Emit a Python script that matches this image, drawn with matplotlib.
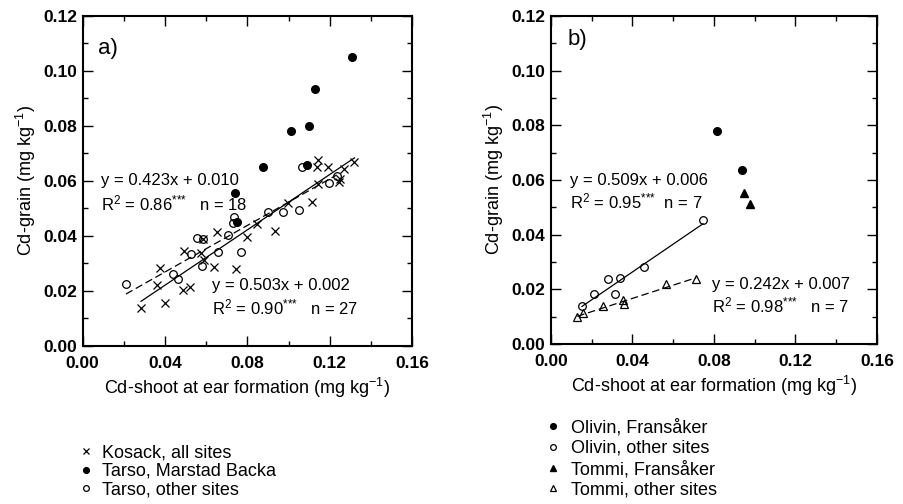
import matplotlib
matplotlib.use('Agg')
import matplotlib.pyplot as plt
from matplotlib.ticker import MultipleLocator
import numpy as np

plt.rcParams['font.family'] = ['Liberation Sans', 'DejaVu Sans']
plt.rcParams['mathtext.fontset'] = 'custom'
plt.rcParams['mathtext.rm'] = 'Liberation Sans'
plt.rcParams['mathtext.it'] = 'Liberation Sans:italic'
plt.rcParams['mathtext.bf'] = 'Liberation Sans:bold'

# ---- panel a) data ----
kosack_x = [0.0283, 0.0401, 0.0361, 0.0374, 0.0488, 0.052, 0.0491, 0.0573, 0.0585, 0.0588,
            0.0637, 0.0654, 0.0743, 0.080, 0.0845, 0.0935, 0.0995, 0.1114, 0.1145, 0.1244,
            0.125, 0.1271, 0.132, 0.1145, 0.1138, 0.1193]
kosack_y = [0.0137, 0.0157, 0.0222, 0.0283, 0.0204, 0.0216, 0.0345, 0.0337, 0.0389, 0.0313,
            0.0288, 0.0416, 0.0279, 0.0396, 0.0444, 0.0418, 0.0521, 0.0523, 0.0589, 0.0597,
            0.0606, 0.0643, 0.0668, 0.0676, 0.0652, 0.0652]
tarso_mb_x = [0.131, 0.113, 0.110, 0.101, 0.0876, 0.1089, 0.074, 0.075]
tarso_mb_y = [0.105, 0.0933, 0.080, 0.078, 0.0652, 0.0659, 0.0557, 0.045]
tarso_ot_x = [0.021, 0.0437, 0.0463, 0.0528, 0.0553, 0.0585, 0.058, 0.0659, 0.0706, 0.0733,
              0.073, 0.0771, 0.0902, 0.0974, 0.1052, 0.1195, 0.1063, 0.1234]
tarso_ot_y = [0.0225, 0.0261, 0.0242, 0.0335, 0.0392, 0.0389, 0.0291, 0.0343, 0.0404, 0.047,
              0.0446, 0.0341, 0.0486, 0.0488, 0.0495, 0.0592, 0.0652, 0.0618]

# ---- panel b) data ----
olivin_fr_x = [0.0815, 0.0939]
olivin_fr_y = [0.078, 0.0636]
olivin_ot_x = [0.0746, 0.0458, 0.034, 0.0282, 0.0213, 0.0314, 0.0152]
olivin_ot_y = [0.0453, 0.0282, 0.0243, 0.0238, 0.0184, 0.0183, 0.0139]
tommi_fr_x = [0.0949, 0.0977]
tommi_fr_y = [0.0553, 0.0513]
tommi_ot_x = [0.0713, 0.0563, 0.0355, 0.036, 0.0255, 0.0159, 0.0129]
tommi_ot_y = [0.0238, 0.0221, 0.0161, 0.0148, 0.0139, 0.0112, 0.0100]

# regressions (slope, intercept) as printed
reg_kosack = (0.503, 0.002)
reg_tarso = (0.423, 0.010)
reg_olivin = (0.509, 0.006)
reg_tommi = (0.242, 0.007)

fig = plt.figure(figsize=(9.04, 5.04), dpi=100)
axa = fig.add_axes([0.0915, 0.3135, 0.3643, 0.6548])
axb = fig.add_axes([0.6095, 0.3175, 0.3606, 0.6508])

def style_axes(ax):
    ax.set_xlim(0, 0.16)
    ax.set_ylim(0, 0.12)
    ax.xaxis.set_major_locator(MultipleLocator(0.04))
    ax.xaxis.set_minor_locator(MultipleLocator(0.02))
    ax.yaxis.set_major_locator(MultipleLocator(0.02))
    ax.yaxis.set_minor_locator(MultipleLocator(0.01))
    ax.xaxis.set_major_formatter(lambda v, p: '%.2f' % v)
    ax.yaxis.set_major_formatter(lambda v, p: '%.2f' % v)
    for s in ax.spines.values():
        s.set_linewidth(1.5)
    ax.tick_params(which='both', direction='in', top=True, right=True, width=1)
    ax.tick_params(which='major', length=7)
    ax.tick_params(which='minor', length=3.5)
    ax.tick_params(axis='x', which='major', pad=7, labelsize=12.5)
    ax.tick_params(axis='y', which='major', pad=4, labelsize=12.5)
    for lab in ax.get_xticklabels() + ax.get_yticklabels():
        lab.set_fontweight('bold')
    ax.set_xlabel('Cd-shoot at ear formation (mg kg$^{-1}$)', fontsize=13, labelpad=4)
    ax.set_ylabel('Cd-grain (mg kg$^{-1}$)', fontsize=13, labelpad=4)

def reg_line(ax, xs, coef, ls):
    x = np.array([min(xs), max(xs)])
    if ls == 'solid':
        ax.plot(x, coef[0] * x + coef[1], color='black', lw=0.9)
    else:
        ax.plot(x, coef[0] * x + coef[1], color='black', lw=0.9, dashes=(6, 3))

STARS = '$^{{*}{*}{*}}$'
ms = 5.5
# panel a
axa.plot(kosack_x, kosack_y, 'x', color='black', ms=ms, mew=0.9, ls='none', label='Kosack, all sites')
axa.plot(tarso_mb_x, tarso_mb_y, 'o', color='black', ms=ms, ls='none', label='Tarso, Marstad Backa')
axa.plot(tarso_ot_x, tarso_ot_y, 'o', mfc='none', mec='black', ms=ms, mew=0.9, ls='none', label='Tarso, other sites')
reg_line(axa, kosack_x, reg_kosack, 'solid')
reg_line(axa, tarso_ot_x, reg_tarso, 'dashed')
style_axes(axa)
axa.text(0.047, 0.9, 'a)', transform=axa.transAxes, fontsize=16, va='center')
axa.text(0.0556, 0.5, 'y = 0.423x + 0.010', transform=axa.transAxes, fontsize=12, va='center')
axa.text(0.0556, 0.433, 'R$^2$ = 0.86' + STARS + '   n = 18', transform=axa.transAxes, fontsize=12, va='center')
axa.text(0.392, 0.182, 'y = 0.503x + 0.002', transform=axa.transAxes, fontsize=12, va='center')
axa.text(0.392, 0.116, 'R$^2$ = 0.90' + STARS + '   n = 27', transform=axa.transAxes, fontsize=12, va='center')

# panel b
axb.plot(olivin_fr_x, olivin_fr_y, 'o', color='black', ms=ms, ls='none', label='Olivin, Fransåker')
axb.plot(olivin_ot_x, olivin_ot_y, 'o', mfc='none', mec='black', ms=ms, mew=0.9, ls='none', label='Olivin, other sites')
axb.plot(tommi_fr_x, tommi_fr_y, '^', color='black', ms=ms, ls='none', label='Tommi, Fransåker')
axb.plot(tommi_ot_x, tommi_ot_y, '^', mfc='none', mec='black', ms=ms, mew=0.9, ls='none', label='Tommi, other sites')
reg_line(axb, olivin_ot_x, reg_olivin, 'solid')
reg_line(axb, tommi_ot_x, reg_tommi, 'dashed')
style_axes(axb)
axb.text(0.051, 0.927, 'b)', transform=axb.transAxes, fontsize=16, va='center')
axb.text(0.058, 0.497, 'y = 0.509x + 0.006', transform=axb.transAxes, fontsize=12, va='center')
axb.text(0.058, 0.434, 'R$^2$ = 0.95' + STARS + '  n = 7', transform=axb.transAxes, fontsize=12, va='center')
axb.text(0.493, 0.182, 'y = 0.242x + 0.007', transform=axb.transAxes, fontsize=12, va='center')
axb.text(0.493, 0.116, 'R$^2$ = 0.98' + STARS + '   n = 7', transform=axb.transAxes, fontsize=12, va='center')

# legends below the panels
ha, la = axa.get_legend_handles_labels()
fig.legend(ha, la, loc='upper left', bbox_to_anchor=(0.0892, 0.119), frameon=False,
           fontsize=13, handlelength=0.6, handletextpad=0.57, labelspacing=0.1,
           borderpad=0, borderaxespad=0, markerscale=0.75)
hb, lb = axb.get_legend_handles_labels()
fig.legend(hb, lb, loc='upper left', bbox_to_anchor=(0.606, 0.169), frameon=False,
           fontsize=13, handlelength=0.6, handletextpad=0.67, labelspacing=0.2,
           borderpad=0, borderaxespad=0, markerscale=0.75)

fig.savefig('out.png', dpi=100)
